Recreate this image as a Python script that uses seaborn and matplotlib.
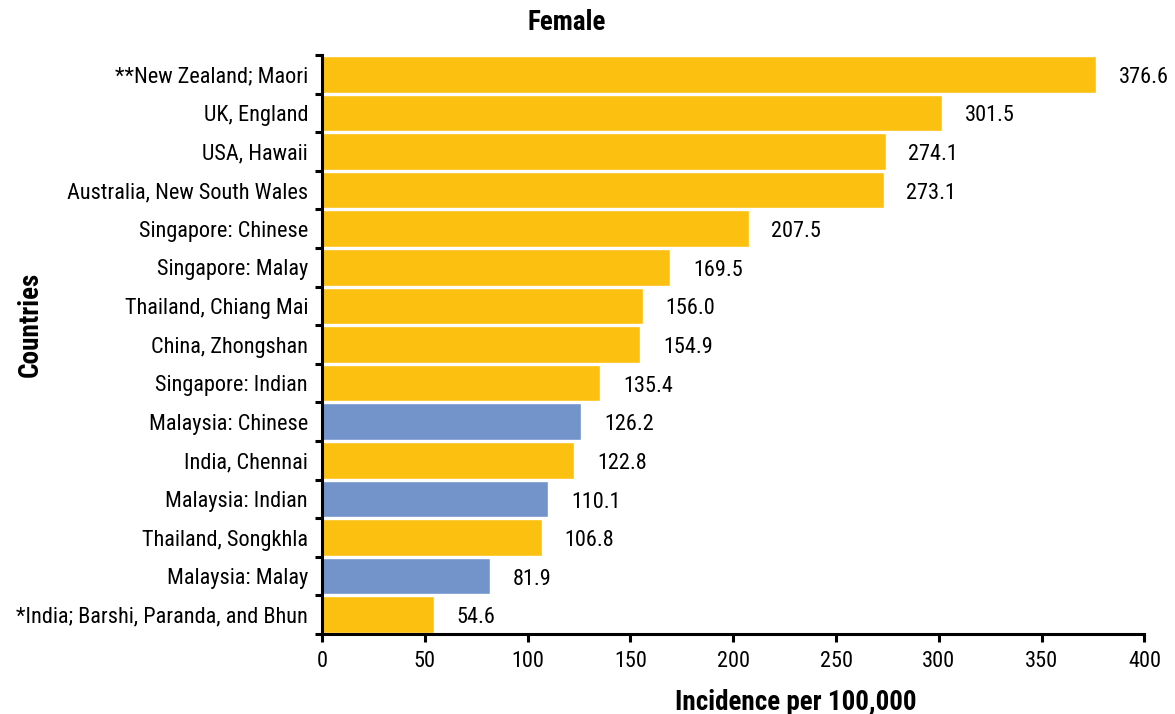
import numpy as np
import pandas as pd
import matplotlib
matplotlib.use("Agg")
import matplotlib.pyplot as plt
import seaborn as sns
from matplotlib import font_manager

# data
countries = [
    "**New Zealand; Maori",
    "UK, England",
    "USA, Hawaii",
    "Australia, New South Wales",
    "Singapore: Chinese",
    "Singapore: Malay",
    "Thailand, Chiang Mai",
    "China, Zhongshan",
    "Singapore: Indian",
    "Malaysia: Chinese",
    "India, Chennai",
    "Malaysia: Indian",
    "Thailand, Songkhla",
    "Malaysia: Malay",
    "*India; Barshi, Paranda, and Bhun",
]
incidence = [376.6, 301.5, 274.1, 273.1, 207.5, 169.5, 156.0, 154.9,
             135.4, 126.2, 122.8, 110.1, 106.8, 81.9, 54.6]
group = ["Other", "Other", "Other", "Other", "Other", "Other", "Other", "Other",
         "Other", "Malaysia", "Other", "Malaysia", "Other", "Malaysia", "Other"]
x_ticks = [0, 50, 100, 150, 200, 250, 300, 350, 400]

df = pd.DataFrame({"country": countries, "value": incidence, "group": group})

sns.set_style("white")
# condensed font if there is one
names = {f.name for f in font_manager.fontManager.ttflist}
narrow = [n for n in ["Liberation Sans Narrow", "Roboto Condensed", "Open Sans Condensed"] if n in names]
plt.rcParams["font.family"] = narrow + ["Liberation Sans", "DejaVu Sans"]
plt.rcParams["text.color"] = "black"
plt.rcParams["xtick.color"] = "black"
plt.rcParams["ytick.color"] = "black"
plt.rcParams["axes.labelcolor"] = "black"
fs = 16 if narrow else 13
fs_b = 19.5 if narrow else 16

fig = plt.figure(figsize=(11.75, 7.14), dpi=100)
ax = fig.add_axes([0.274, 0.112, 0.700, 0.811])

sns.barplot(data=df, x="value", y="country", hue="group",
            palette={"Other": "#FCC010", "Malaysia": "#7393CB"},
            dodge=False, width=0.95, saturation=1, legend=False, ax=ax)

for i, v in enumerate(incidence):
    ax.text(v + 11, i + 0.08, f"{v:.1f}", va="center", ha="left", fontsize=fs)

ax.set_xlim(0, 400)
ax.set_ylim(len(countries) - 0.5, -0.5)
ax.set_xticks(x_ticks)
ax.set_xticklabels([str(t) for t in x_ticks], fontsize=fs)

# y ticks sit between the bars
ax.set_yticks(np.arange(len(countries)))
ax.set_yticklabels(countries, fontsize=fs)
ax.tick_params(axis="y", which="major", left=False, length=0, pad=10)
ax.set_yticks(np.arange(-0.5, len(countries), 1), minor=True)
ax.tick_params(axis="y", which="minor", left=True, length=5, width=2.2, color="black")
ax.tick_params(axis="x", which="major", bottom=True, length=6, width=2.2, color="black", pad=6)

for side in ["top", "right"]:
    ax.spines[side].set_visible(False)
for side in ["left", "bottom"]:
    ax.spines[side].set_linewidth(2.2)
    ax.spines[side].set_color("black")

ax.set_xlabel("Incidence per 100,000", fontsize=fs_b, fontweight="bold")
ax.xaxis.set_label_coords(0.576, -0.095)
ax.set_ylabel("")
fig.text(0.026, 0.545, "Countries", rotation=90, fontsize=fs_b, fontweight="bold",
         ha="center", va="center")
fig.text(0.482, 0.968, "Female", fontsize=fs_b, fontweight="bold", ha="center", va="center")

fig.savefig("out.png", dpi=100)
